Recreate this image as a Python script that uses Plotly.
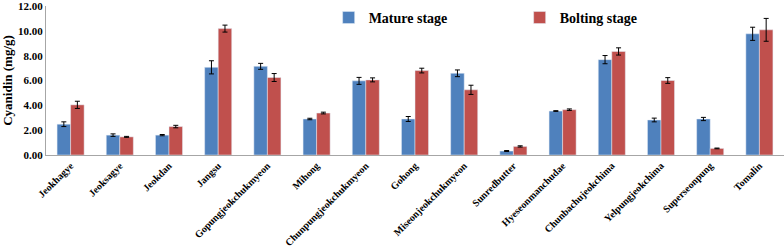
import plotly.graph_objects as go

categories = ["Jeokhagye", "Jeoksagye", "Jeokdan", "Jangsu", "Gopungjeokchukmyeon",
              "Mihong", "Chunpungjeokchukmyeon", "Gohong", "Miseonjeokchukmyeon",
              "Sunredbutter", "Hyeseonmanchudae", "Chunbachujeokchima", "Yelpungjeokchima",
              "Superseonpung", "Tomalin"]
mature = [2.48, 1.60, 1.60, 7.06, 7.14, 2.90, 5.97, 2.90, 6.58, 0.32, 3.54, 7.68, 2.82, 2.90, 9.76]
mature_err = [0.19, 0.10, 0.05, 0.53, 0.24, 0.06, 0.28, 0.20, 0.27, 0.04, 0.03, 0.33, 0.15, 0.13, 0.53]
bolting = [4.04, 1.46, 2.29, 10.18, 6.24, 3.38, 6.05, 6.80, 5.25, 0.69, 3.65, 8.34, 6.00, 0.53, 10.08]
bolting_err = [0.29, 0.04, 0.10, 0.28, 0.32, 0.07, 0.16, 0.19, 0.37, 0.05, 0.06, 0.29, 0.23, 0.03, 0.92]
y_ticks = [0, 2, 4, 6, 8, 10, 12]
y_tick_labels = ["0.00", "2.00", "4.00", "6.00", "8.00", "10.00", "12.00"]

FONT = "Liberation Serif, Times New Roman, serif"

fig = go.Figure()
fig.add_trace(go.Bar(
    x=categories, y=mature, name="Mature stage", marker_color="#4F81BD",
    error_y=dict(type="data", array=mature_err, color="black", thickness=1, width=2.5),
))
fig.add_trace(go.Bar(
    x=categories, y=bolting, name="Bolting stage", marker_color="#C0504D",
    error_y=dict(type="data", array=bolting_err, color="black", thickness=1, width=2.5),
))

fig.update_layout(
    width=784, height=249,
    margin=dict(l=46, r=0, t=6, b=94),
    paper_bgcolor="white", plot_bgcolor="white",
    barmode="group", bargap=0.45, bargroupgap=0,
    font=dict(family=FONT, color="black"),
    legend=dict(
        orientation="h", yanchor="middle", xanchor="left", x=0.383, y=0.92,
        entrywidth=146, itemwidth=30,
        font=dict(family=FONT, size=14, color="black", weight="bold"),
        bgcolor="rgba(0,0,0,0)",
    ),
    xaxis=dict(
        tickangle=-45, showline=True, linecolor="#A6A6A6", linewidth=1,
        ticks="", tickfont=dict(family=FONT, size=10, color="black", weight="bold"),
        showgrid=False, automargin=False, ticklabeloverflow="allow",
    ),
    yaxis=dict(
        range=[0, 12], tickvals=y_ticks, ticktext=y_tick_labels,
        showline=True, linecolor="#A6A6A6", linewidth=1, ticks="",
        showgrid=False, zeroline=False, automargin=False, ticklabeloverflow="allow",
        tickfont=dict(family=FONT, size=11, color="black", weight="bold"),
        title=dict(text="Cyanidin (mg/g)", standoff=6,
                   font=dict(family=FONT, size=13, color="black", weight="bold")),
    ),
)
fig.write_html("out.html", config={"displayModeBar": False},
               post_script="document.body.style.margin='0';")
